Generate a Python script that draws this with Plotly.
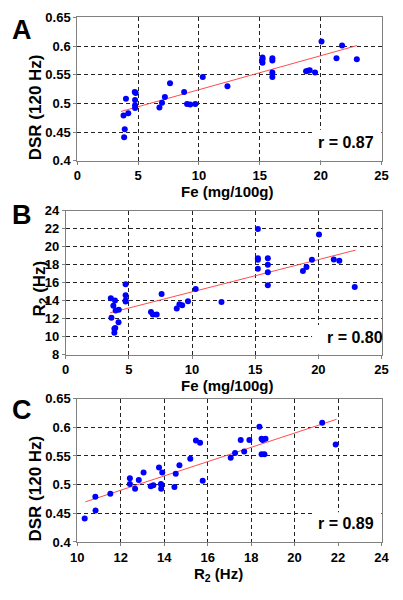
import plotly.graph_objects as go

# Panel A: Fe vs DSR
fe_A = [3.80, 3.90, 3.85, 4.00, 4.19, 4.72, 4.80, 4.75, 4.75, 4.75, 6.75, 6.96, 7.20, 7.62, 8.78, 9.02, 9.28, 9.70,
        10.31, 12.34, 15.22, 15.22, 15.22, 16.03, 16.03, 16.03, 16.03, 18.80, 18.96, 19.10, 19.54, 20.07, 21.30, 21.76, 22.97]
dsr_A = [0.479, 0.455, 0.441, 0.508, 0.483, 0.520, 0.518, 0.506, 0.497, 0.492, 0.493, 0.501, 0.511, 0.535, 0.520, 0.499,
         0.498, 0.499, 0.546, 0.530, 0.580, 0.577, 0.571, 0.579, 0.575, 0.554, 0.546, 0.556, 0.557, 0.558, 0.554, 0.608,
         0.579, 0.601, 0.577]
fitA_x = [3.6, 23.0]
fitA_y = [0.486, 0.601]

# Panel B: Fe vs R2
fe_B = [3.57, 3.62, 3.77, 3.90, 3.95, 3.85, 3.92, 3.85, 4.18, 4.20, 4.74, 4.74, 4.74, 4.74, 6.75, 6.90, 7.20, 7.59,
        8.79, 9.00, 9.22, 9.68, 10.29, 12.33, 15.21, 15.21, 15.21, 15.21, 16.00, 16.00, 16.00, 16.00, 18.78, 19.06,
        19.49, 20.05, 21.22, 21.66, 22.88]
r2_B = [14.29, 12.12, 13.46, 14.04, 12.92, 10.90, 10.97, 10.46, 11.62, 12.99, 15.84, 14.61, 14.04, 13.93, 12.74, 12.48,
        12.48, 14.76, 13.13, 13.60, 13.49, 13.96, 15.30, 13.86, 21.98, 18.73, 18.55, 17.57, 18.73, 18.01, 17.18, 15.73,
        17.32, 17.75, 18.55, 21.36, 18.58, 18.44, 15.52]
fitB_x = [3.5, 22.95]
fitB_y = [12.66, 19.63]

# Panel C: R2 vs DSR
r2_C = [10.34, 10.83, 10.84, 11.52, 12.42, 12.42, 12.66, 12.83, 13.05, 13.38, 13.50, 13.76, 13.85, 13.86, 13.91, 13.88,
        14.47, 14.53, 14.70, 15.20, 15.46, 15.65, 15.77, 17.06, 17.26, 17.52, 17.68, 17.92, 18.38, 18.48, 18.53, 18.66,
        18.48, 18.61, 21.27, 21.89]
dsr_C = [0.441, 0.479, 0.455, 0.484, 0.511, 0.501, 0.493, 0.508, 0.521, 0.497, 0.499, 0.530, 0.501, 0.493, 0.521, 0.499,
         0.496, 0.519, 0.534, 0.545, 0.577, 0.573, 0.507, 0.547, 0.555, 0.578, 0.558, 0.578, 0.601, 0.580, 0.578, 0.580,
         0.553, 0.553, 0.608, 0.570]
fitC_x = [10.37, 21.93]
fitC_y = [0.470, 0.614]

panel_labels = ["A", "B", "C"]
r_labels = ["r = 0.87", "r = 0.80", "r = 0.89"]
x_titles = ["Fe (mg/100g)", "Fe (mg/100g)", "R<sub>2</sub> (Hz)"]
y_titles = ["DSR (120 Hz)", "R<sub>2</sub> (Hz)", "DSR (120 Hz)"]

W, H = 403, 600
FONT = "Liberation Sans, Arial, sans-serif"
BLUE = "#0000FF"
RED = "#FF4D4D"


def px(x):
    return x / W


def py(y):
    return 1 - y / H


fig = go.Figure()

panels = [
    (fe_A, dsr_A, fitA_x, fitA_y, "x", "y"),
    (fe_B, r2_B, fitB_x, fitB_y, "x2", "y2"),
    (r2_C, dsr_C, fitC_x, fitC_y, "x3", "y3"),
]
for xs, ys, fx, fy, xa, ya in panels:
    fig.add_trace(go.Scatter(x=fx, y=fy, mode="lines", line=dict(color=RED, width=1),
                             xaxis=xa, yaxis=ya, showlegend=False, hoverinfo="skip"))
    fig.add_trace(go.Scatter(x=xs, y=ys, mode="markers", marker=dict(color=BLUE, size=6),
                             xaxis=xa, yaxis=ya, showlegend=False))

tickfont = dict(family=FONT, size=13, color="black", weight="bold")
axis_common = dict(showline=True, linecolor="#808080", linewidth=1, mirror=True,
                   ticks="outside", ticklen=3, tickcolor="#808080",
                   showgrid=True, gridcolor="#222222", gridwidth=1, griddash="4px,3px",
                   zeroline=False, tickfont=tickfont, fixedrange=True)

# pixel geometry of plot areas (left, right, top, bottom)
geo = [(73, 389, 10.7, 157.7), (61, 389, 209, 356.7), (73, 389, 401.7, 548.7)]
xranges = [[0, 25], [0, 25], [10, 24]]
xdticks = [5, 5, 2]
yranges = [[0.4, 0.65], [8, 24], [0.4, 0.65]]
ydticks = [0.05, 2, 0.05]

names = [("xaxis", "yaxis", "x", "y"), ("xaxis2", "yaxis2", "x2", "y2"), ("xaxis3", "yaxis3", "x3", "y3")]
lay = {}
for i, (xn, yn, xa, ya) in enumerate(names):
    l, r, t, b = geo[i]
    lay[xn] = dict(axis_common, domain=[px(l), px(r)], range=xranges[i], dtick=xdticks[i], tick0=xranges[i][0],
                   anchor=ya)
    lay[yn] = dict(axis_common, domain=[py(b), py(t)], range=yranges[i], dtick=ydticks[i], tick0=yranges[i][0],
                   anchor=xa)
fig.update_layout(**lay)

# white boxes behind r labels (cover the grid)
boxes = [("x", "y", 19.3, 25, 0.4, 0.454), ("x2", "y2", 19.5, 25, 8, 11.3), ("x3", "y3", 20.8, 24, 0.4, 0.452)]
shapes = []
for xa, ya, x0, x1, y0, y1 in boxes:
    shapes.append(dict(type="rect", xref=xa, yref=ya, x0=x0, x1=x1, y0=y0, y1=y1,
                       fillcolor="white", line=dict(width=0), layer="between"))

annots = []
letter_pos = [(16, 23.5), (16, 213), (16, 413)]
for lab, (x, y) in zip(panel_labels, letter_pos):
    annots.append(dict(text=lab, x=px(x), y=py(y), xref="paper", yref="paper", showarrow=False,
                       xanchor="center", yanchor="middle",
                       font=dict(family=FONT, size=27, color="black", weight="bold")))
r_pos = [(352, 139), (361, 339), (352, 530)]
for lab, (x, y) in zip(r_labels, r_pos):
    annots.append(dict(text=lab, x=px(x), y=py(y), xref="paper", yref="paper", showarrow=False,
                       xanchor="center", yanchor="middle",
                       font=dict(family=FONT, size=16, color="black", weight="bold")))
xt_pos = [(229, 189), (229, 388), (220, 582)]
for lab, (x, y) in zip(x_titles, xt_pos):
    annots.append(dict(text=lab, x=px(x), y=py(y), xref="paper", yref="paper", showarrow=False,
                       xanchor="center", yanchor="middle",
                       font=dict(family=FONT, size=15, color="black", weight="bold")))
yt_pos = [(30, 103), (35, 289), (30, 494)]
for lab, (x, y) in zip(y_titles, yt_pos):
    annots.append(dict(text=lab, x=px(x), y=py(y), xref="paper", yref="paper", showarrow=False,
                       xanchor="center", yanchor="middle", textangle=-90,
                       font=dict(family=FONT, size=17, color="black", weight="bold")))

fig.update_layout(width=W, height=H, margin=dict(l=0, r=0, t=0, b=0, pad=0),
                  paper_bgcolor="white", plot_bgcolor="white",
                  shapes=shapes, annotations=annots, showlegend=False)

fig.write_html("out.html", config={"displayModeBar": False},
               post_script="document.body.style.margin='0';")
